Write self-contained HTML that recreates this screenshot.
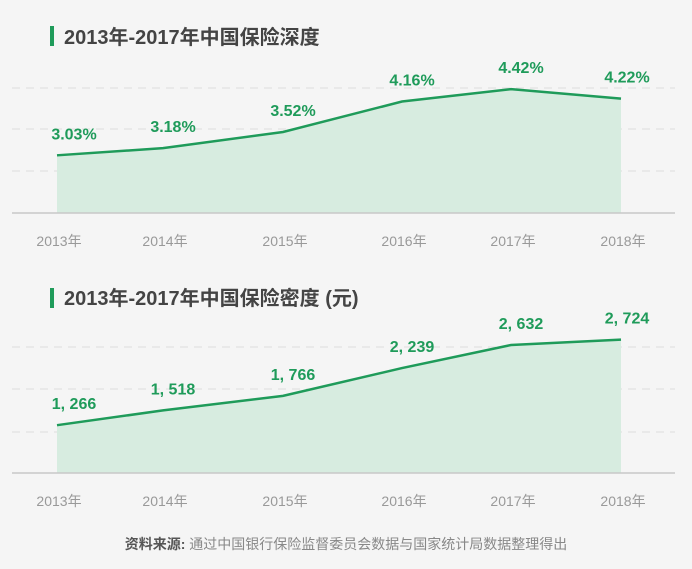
<!DOCTYPE html>
<html><head><meta charset="utf-8"><style>
body{margin:0;background:#f5f5f5;}
svg{display:block;font-family:"Liberation Sans","Noto Sans CJK SC",sans-serif;}
</style></head><body>
<svg id="c" width="692" height="569" viewBox="0 0 692 569">
<rect width="692" height="569" fill="#f5f5f5"/>
<rect x="50" y="26" width="4" height="20" fill="#1f9b5a"/>
<text x="64" y="44" font-size="20" font-weight="bold" fill="#444">2013年-2017年中国保险深度</text>
<rect x="50" y="288" width="4" height="20" fill="#1f9b5a"/>
<text x="64" y="305" font-size="20" font-weight="bold" fill="#444">2013年-2017年中国保险密度 (元)</text>
<text x="346" y="549" font-size="14" text-anchor="middle" fill="#888"><tspan fill="#555" font-weight="bold">资料来源: </tspan>通过中国银行保险监督委员会数据与国家统计局数据整理得出</text>
<g id="g1"></g><g id="g2"></g>
</svg>
<script>
const years=["2013年","2014年","2015年","2016年","2017年","2018年"];
const depthValues=[3.03,3.18,3.52,4.16,4.42,4.22];
const depthLabels=["3.03%","3.18%","3.52%","4.16%","4.42%","4.22%"];
const densityValues=[1266,1518,1766,2239,2632,2724];
const densityLabels=["1, 266","1, 518","1, 766","2, 239","2, 632","2, 724"];
const NS="http://www.w3.org/2000/svg";
const catX=[57,163,283,402,511,621];
function xAt(i){return catX[i];}
function mk(tag,attrs,parent){const e=document.createElementNS(NS,tag);for(const k in attrs)e.setAttribute(k,attrs[k]);parent.appendChild(e);return e;}
function draw(gid,vals,labels,yFn,base,grids,nm){
  const g=document.getElementById(gid);
  grids.forEach(gy=>{const l=mk('line',{x1:12,x2:675,y1:gy,y2:gy,stroke:'#ddd','stroke-dasharray':'8,6'},g);
    
    });
  const pts=vals.map((v,i)=>[xAt(i),yFn(v)]);
  const area=mk('path',{d:'M'+pts[0][0]+','+base+pts.map(p=>'L'+p[0]+','+p[1]).join('')+'L'+pts[5][0]+','+base+'Z',fill:'#d7ece0'},g);
  
  
  const line=mk('polyline',{points:pts.map(p=>p.join(',')).join(' '),fill:'none',stroke:'#1f9b5a','stroke-width':2.5},g);
  
  
  const ax=mk('line',{x1:12,x2:675,y1:base,y2:base,stroke:'#c8c8c8','stroke-width':1.5},g);
  
  
  pts.forEach((p,i)=>{
    const t=mk('text',{x:p[0]+(i==0?17:(i==5?6:10)),y:p[1]-16,'font-size':16,'font-weight':'bold','text-anchor':'middle',fill:'#1f9b5a'},g);
    t.textContent=labels[i];
    
    
    const yl=mk('text',{x:p[0]+2,y:base+33,'font-size':14,'text-anchor':'middle',fill:'#999'},g);
    yl.textContent=years[i];
    
    
  });
}
draw('g1',depthValues,depthLabels,v=>120.8-47.6*(v-3.755),213,[88,129,171],'depth');
draw('g2',densityValues,densityLabels,v=>380.7-0.0587*(v-2024),473,[347,389,432],'density');
</script>
</body></html>
